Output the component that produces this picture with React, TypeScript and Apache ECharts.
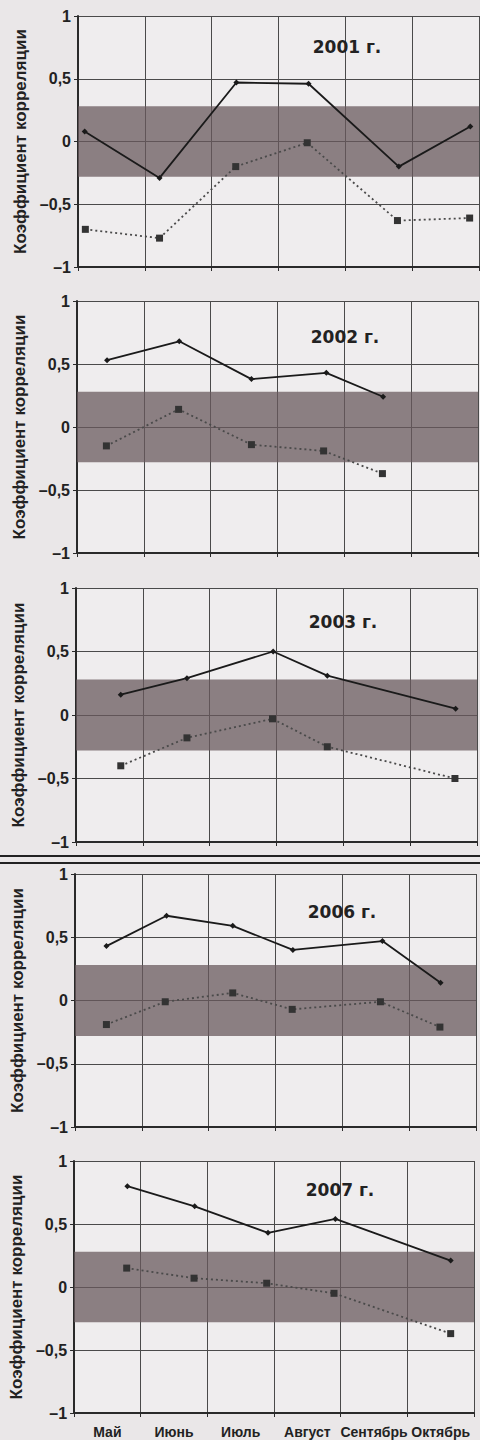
import React, { useEffect, useRef } from "react";
import * as echarts from "echarts";

const months = ["Май", "Июнь", "Июль", "Август", "Сентябрь", "Октябрь"];
const yearTitles = ["2001 г.", "2002 г.", "2003 г.", "2006 г.", "2007 г."];
const yTicks = [-1, -0.5, 0, 0.5, 1];
const bandLow = -0.28;
const bandHigh = 0.28;

// [position within season (month index + fraction), correlation]
const solid2001 = [[0.10, 0.08], [1.22, -0.29], [2.37, 0.47], [3.45, 0.46], [4.80, -0.20], [5.87, 0.12]];
const dotted2001 = [[0.11, -0.70], [1.22, -0.77], [2.36, -0.20], [3.43, -0.01], [4.78, -0.63], [5.86, -0.61]];
const solid2002 = [[0.45, 0.53], [1.53, 0.68], [2.61, 0.38], [3.73, 0.43], [4.58, 0.24]];
const dotted2002 = [[0.44, -0.15], [1.52, 0.14], [2.61, -0.14], [3.69, -0.19], [4.57, -0.37]];
const solid2003 = [[0.67, 0.16], [1.66, 0.29], [2.95, 0.50], [3.76, 0.31], [5.68, 0.05]];
const dotted2003 = [[0.67, -0.40], [1.66, -0.18], [2.94, -0.03], [3.76, -0.25], [5.67, -0.50]];
const solid2006 = [[0.47, 0.43], [1.37, 0.67], [2.36, 0.59], [3.26, 0.40], [4.60, 0.47], [5.47, 0.14]];
const dotted2006 = [[0.47, -0.19], [1.35, -0.01], [2.36, 0.06], [3.25, -0.07], [4.57, -0.01], [5.46, -0.21]];
const solid2007 = [[0.80, 0.80], [1.81, 0.64], [2.91, 0.43], [3.92, 0.54], [5.65, 0.21]];
const dotted2007 = [[0.79, 0.15], [1.80, 0.07], [2.89, 0.03], [3.90, -0.05], [5.65, -0.37]];

const solidSets = [solid2001, solid2002, solid2003, solid2006, solid2007];
const dottedSets = [dotted2001, dotted2002, dotted2003, dotted2006, dotted2007];

const gridTops = [16, 301, 588, 874, 1161];
const gridHeights = [251, 252, 254, 253, 252];
const gridLefts = [78, 77, 76, 75, 73];
const gridWidth = 401;
const titleX = [347, 345, 343, 342, 340];
const titleY = [47, 337, 622, 912, 1190];

const FONT = "'Liberation Sans', Arial, sans-serif";
const TITLE_FONT = "'DejaVu Sans', sans-serif";
const DARK = "#222";

function fmt(v: number) {
  if (v === 0) return "0";
  return String(v).replace(".", ",").replace("-", "–");
}

export default function App() {
  const ref = useRef<HTMLDivElement>(null);
  useEffect(() => {
    document.body.style.margin = "0";
    if (!ref.current) return;
    const chart = echarts.init(ref.current, null, { renderer: "svg" });

    const grids: any[] = [];
    const xAxes: any[] = [];
    const yAxes: any[] = [];
    const series: any[] = [];
    const graphics: any[] = [];

    for (let i = 0; i < 5; i++) {
      grids.push({
        left: gridLefts[i],
        top: gridTops[i],
        width: gridWidth,
        height: gridHeights[i],
        show: true,
        backgroundColor: "#efedee",
        borderWidth: 0,
      });
      xAxes.push({
        gridIndex: i,
        type: "value",
        min: 0,
        max: 6,
        interval: 1,
        axisLabel: { show: false },
        axisLine: { show: true, onZero: false, lineStyle: { color: "#2a2a2a", width: 2 } },
        axisTick: { show: true, length: 4, lineStyle: { color: "#2a2a2a" } },
        splitLine: { show: true, lineStyle: { color: "#4a4a4a", width: 1 } },
      });
      yAxes.push({
        gridIndex: i,
        type: "value",
        min: yTicks[0],
        max: yTicks[yTicks.length - 1],
        interval: 0.5,
        axisLine: { show: true, onZero: false, lineStyle: { color: "#2a2a2a", width: 2 } },
        axisTick: { show: true, length: 4, lineStyle: { color: "#2a2a2a" } },
        axisLabel: {
          formatter: (v: number) => fmt(v),
          fontFamily: FONT,
          fontWeight: "bold",
          fontSize: 16,
          color: DARK,
          margin: 7,
        },
        splitLine: { show: true, lineStyle: { color: "#4a4a4a", width: 1 } },
        name: "Коэффициент корреляции",
        nameLocation: "middle",
        nameGap: 46,
        nameTextStyle: { fontFamily: FONT, fontWeight: "bold", fontSize: 17, color: DARK },
      });
      series.push({
        type: "line",
        xAxisIndex: i,
        yAxisIndex: i,
        data: solidSets[i],
        symbol: "diamond",
        symbolSize: 6,
        lineStyle: { color: "#1a1a1a", width: 1.8 },
        itemStyle: { color: "#1a1a1a" },
        z: 4,
        markArea: {
          silent: true,
          itemStyle: { color: "rgba(105,90,93,0.75)" },
          data: [[{ yAxis: bandLow }, { yAxis: bandHigh }]],
        },
      });
      series.push({
        type: "line",
        xAxisIndex: i,
        yAxisIndex: i,
        data: dottedSets[i],
        symbol: "rect",
        symbolSize: 7,
        lineStyle: { color: "#4a4a4a", width: 1.8, type: [2, 3] },
        itemStyle: { color: "#333" },
        z: 3,
      });
      graphics.push({
        type: "text",
        x: titleX[i],
        y: titleY[i],
        style: {
          text: yearTitles[i],
          fontFamily: TITLE_FONT,
          fontWeight: "bold",
          fontSize: 17,
          fill: DARK,
          textAlign: "center",
          textVerticalAlign: "middle",
        },
        z: 10,
      });
    }

    xAxes.push({
      gridIndex: 4,
      type: "category",
      data: months,
      boundaryGap: true,
      position: "bottom",
      axisLine: { show: false },
      axisTick: { show: false },
      splitLine: { show: false },
      axisLabel: {
        interval: 0,
        margin: 12,
        fontFamily: FONT,
        fontWeight: "bold",
        fontSize: 14,
        color: DARK,
      },
    });

    graphics.push({
      type: "line",
      shape: { x1: 0, y1: 856, x2: 480, y2: 856 },
      style: { stroke: "#222", lineWidth: 2 },
    });
    graphics.push({
      type: "line",
      shape: { x1: 0, y1: 863, x2: 480, y2: 863 },
      style: { stroke: "#222", lineWidth: 2 },
    });

    chart.setOption({
      animation: false,
      backgroundColor: "#eae7e8",
      grid: grids,
      xAxis: xAxes,
      yAxis: yAxes,
      series,
      graphic: graphics,
    });
    return () => chart.dispose();
  }, []);
  return <div ref={ref} style={{ width: 480, height: 1440 }} />;
}
